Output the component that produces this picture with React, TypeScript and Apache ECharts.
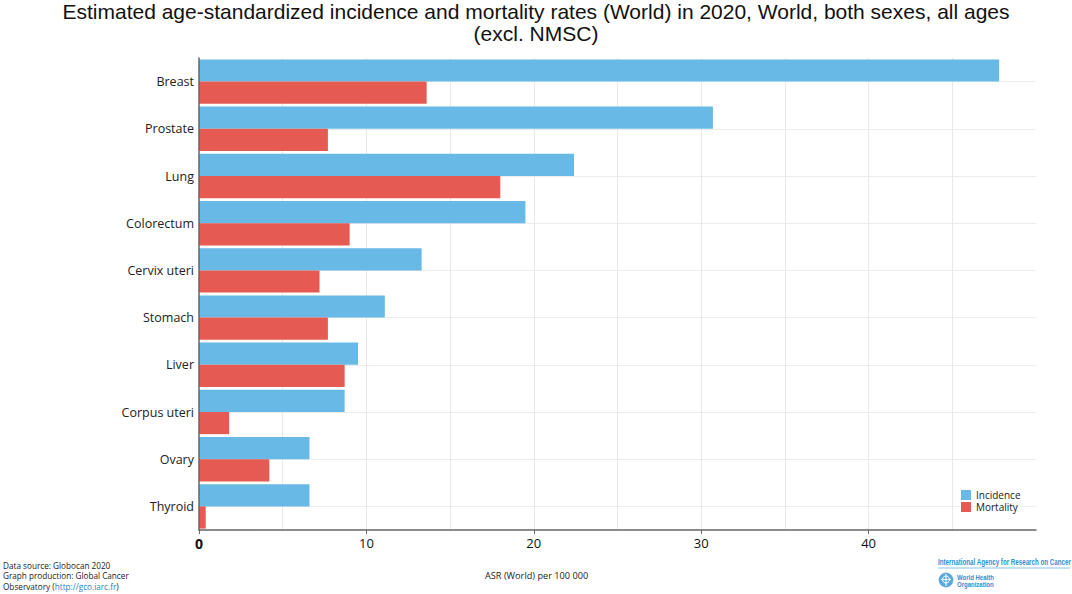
import React, { useEffect, useRef } from "react";
import * as echarts from "echarts";

const categories = [
  "Breast",
  "Prostate",
  "Lung",
  "Colorectum",
  "Cervix uteri",
  "Stomach",
  "Liver",
  "Corpus uteri",
  "Ovary",
  "Thyroid",
];
const incidence = [47.8, 30.7, 22.4, 19.5, 13.3, 11.1, 9.5, 8.7, 6.6, 6.6];
const mortality = [13.6, 7.7, 18.0, 9.0, 7.2, 7.7, 8.7, 1.8, 4.2, 0.4];
const xTickValues = [0, 10, 20, 30, 40];

const BLUE = "#68b9e5";
const RED = "#e55a52";

export default function App() {
  const ref = useRef<HTMLDivElement>(null);
  useEffect(() => {
    if (!ref.current) return;
    const chart = echarts.init(ref.current, null, { renderer: "svg" });
    const option: any = {
      animation: false,
      backgroundColor: "#ffffff",
      title: {
        text: "Estimated age-standardized incidence and mortality rates (World) in 2020, World, both sexes, all ages\n(excl. NMSC)",
        left: "center",
        top: 0,
        padding: 0,
        textStyle: {
          fontFamily: "Liberation Sans",
          fontSize: 21,
          fontWeight: "normal",
          color: "#111",
          lineHeight: 22,
        },
      },
      legend: {
        orient: "vertical",
        left: 956,
        top: 485,
        itemWidth: 10,
        itemHeight: 10,
        itemGap: 2,
        icon: "rect",
        textStyle: { fontFamily: "Open Sans", fontSize: 10, color: "#222" },
        data: ["Incidence", "Mortality"],
      },
      grid: { left: 199, top: 58, right: 36, bottom: 64 },
      xAxis: [
        {
          type: "value",
          min: 0,
          max: 50,
          interval: 5,
          axisLine: { show: true, lineStyle: { color: "#666", width: 1.5 } },
          axisTick: { show: true, length: 4, customValues: xTickValues, lineStyle: { color: "#666" } },
          axisLabel: {
            customValues: xTickValues,
            fontFamily: "Open Sans",
            fontSize: 13,
            color: "#111",
            margin: 6,
            formatter: (v: number) => (v === 0 ? "{b|0}" : String(v)),
            rich: { b: { fontFamily: "Open Sans", fontSize: 14, fontWeight: "bold", color: "#111" } },
          },
          splitLine: { show: false },
          z: 3,
        },
        {
          type: "value",
          min: 0,
          max: 50,
          interval: 5,
          position: "top",
          axisLine: { show: false },
          axisTick: { show: false },
          axisLabel: { show: false },
          splitLine: { show: true, showMinLine: false, showMaxLine: false, lineStyle: { color: "#e8e8e8", width: 1 } },
        },
      ],
      yAxis: [
        {
          type: "category",
          data: categories,
          inverse: true,
          axisLine: { show: true, lineStyle: { color: "#666", width: 1.5 } },
          axisTick: { show: false },
          axisLabel: { fontFamily: "Open Sans", fontSize: 12.5, color: "#222", margin: 5 },
          splitLine: { show: false },
          z: 3,
        },
        {
          type: "value",
          min: 0,
          max: 10,
          interval: 0.5,
          position: "right",
          axisLine: { show: false },
          axisTick: { show: false },
          axisLabel: { show: false },
          splitLine: {
            show: true,
            lineStyle: { color: ["rgba(0,0,0,0)", "#ececec"], width: 1 },
          },
        },
      ],
      series: [
        {
          name: "Incidence",
          type: "bar",
          data: incidence,
          itemStyle: { color: BLUE },
          barGap: "0%",
          barCategoryGap: "6%",
        },
        {
          name: "Mortality",
          type: "bar",
          data: mortality,
          itemStyle: { color: RED },
          barGap: "0%",
          barCategoryGap: "6%",
        },
      ],
      graphic: [
        {
          type: "text",
          x: 3,
          y: 565,
          style: {
            text: "Data source: Globocan 2020",
            fontFamily: "Open Sans",
            fontSize: 8.2,
            fill: "#222",
            verticalAlign: "middle",
            align: "left",
          },
        },
        {
          type: "text",
          x: 3,
          y: 575.5,
          style: {
            text: "Graph production: Global Cancer",
            fontFamily: "Open Sans",
            fontSize: 8.2,
            fill: "#222",
            verticalAlign: "middle",
            align: "left",
          },
        },
        {
          type: "text",
          x: 3,
          y: 586,
          style: {
            text: "Observatory ({l|http://gco.iarc.fr})",
            fontFamily: "Open Sans",
            fontSize: 8.2,
            fill: "#222",
            verticalAlign: "middle",
            align: "left",
            rich: { l: { fill: "#2f7fc1", fontFamily: "Open Sans", fontSize: 8.2 } },
          },
        },
        {
          type: "text",
          x: 485,
          y: 575,
          style: {
            text: "ASR (World) per 100 000",
            fontFamily: "Open Sans",
            fontSize: 9.2,
            fill: "#222",
            verticalAlign: "middle",
            align: "left",
          },
        },
        {
          type: "text",
          x: 938,
          y: 562,
          scaleX: 0.73,
          style: {
            text: "International Agency for Research on Cancer",
            fontFamily: "Liberation Sans",
            fontSize: 8.5,
            fontWeight: "bold",
            fill: "#2e8fd0",
            verticalAlign: "middle",
            align: "left",
          },
        },
        {
          type: "line",
          shape: { x1: 938, y1: 568, x2: 1070, y2: 568 },
          style: { stroke: "#6cb6e6", lineWidth: 0.8 },
        },
        {
          type: "circle",
          shape: { cx: 946, cy: 580, r: 7 },
          style: { fill: "#5aa8e0", stroke: "#3a8fd0", lineWidth: 0.5 },
        },
        {
          type: "circle",
          shape: { cx: 946, cy: 579.5, r: 3.5 },
          style: { fill: "none", stroke: "#ffffff", lineWidth: 1 },
        },
        {
          type: "line",
          shape: { x1: 946, y1: 574, x2: 946, y2: 586 },
          style: { stroke: "#ffffff", lineWidth: 1 },
        },
        {
          type: "line",
          shape: { x1: 941, y1: 579.5, x2: 951, y2: 579.5 },
          style: { stroke: "#ffffff", lineWidth: 0.8 },
        },
        {
          type: "text",
          x: 957,
          y: 577,
          scaleX: 0.8,
          style: {
            text: "World Health",
            fontFamily: "Liberation Sans",
            fontSize: 7.5,
            fontWeight: "bold",
            fill: "#2e8fd0",
            verticalAlign: "middle",
            align: "left",
          },
        },
        {
          type: "text",
          x: 957,
          y: 584.5,
          scaleX: 0.8,
          style: {
            text: "Organization",
            fontFamily: "Liberation Sans",
            fontSize: 7.5,
            fontWeight: "bold",
            fill: "#2e8fd0",
            verticalAlign: "middle",
            align: "left",
          },
        },
      ],
    };
    chart.setOption(option);
    return () => chart.dispose();
  }, []);
  return (
    <div style={{ position: "absolute", left: 0, top: 0 }}>
      <div ref={ref} style={{ width: 1072, height: 594 }} />
    </div>
  );
}
